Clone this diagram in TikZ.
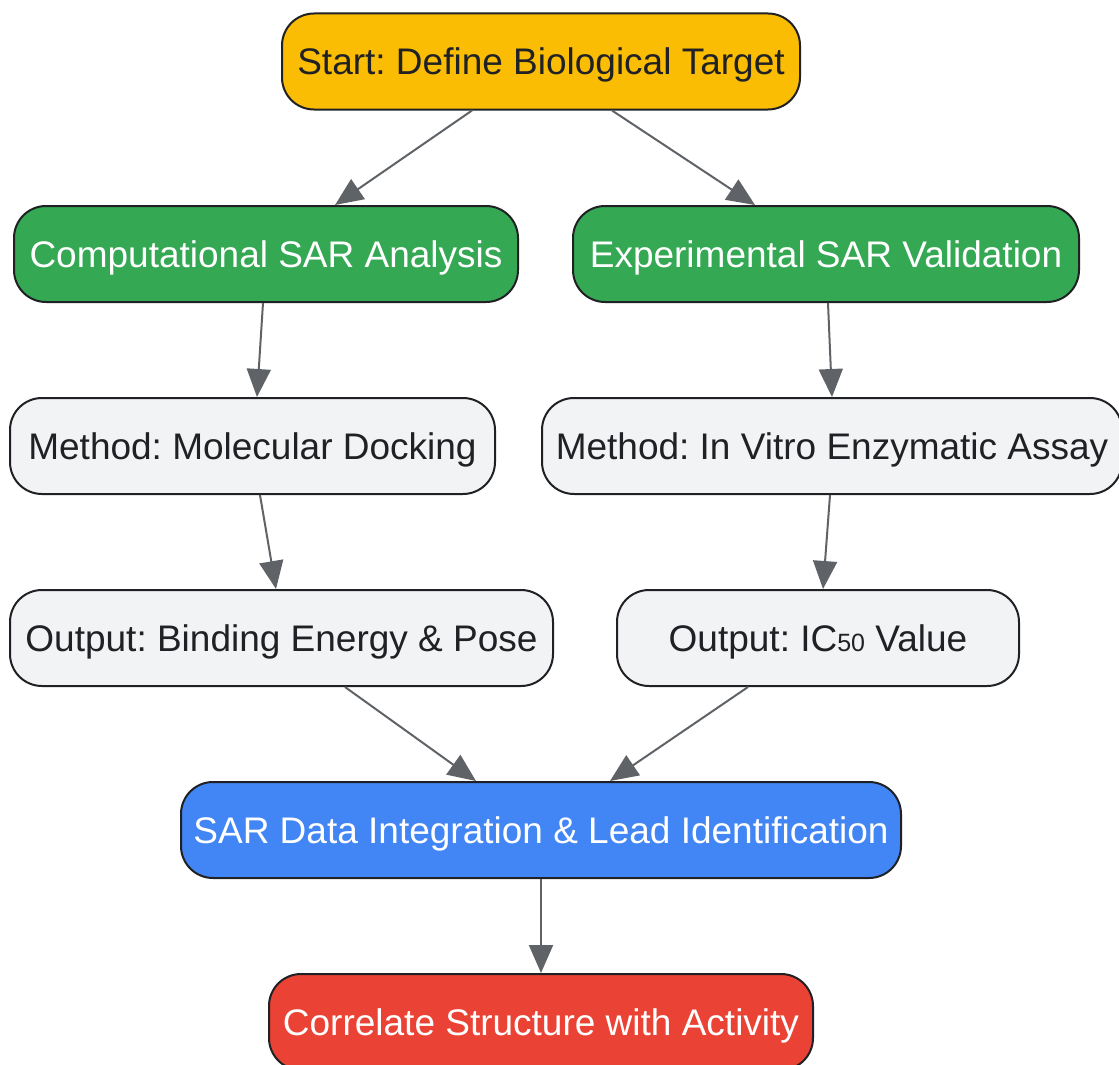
\documentclass[tikz,border=0pt]{standalone}
\usepackage{fontspec}
\setmainfont{Liberation Sans}
\usetikzlibrary{arrows.meta}
\definecolor{cYellow}{HTML}{FBBC04}
\definecolor{cGreen}{HTML}{34A853}
\definecolor{cGray}{HTML}{F1F3F4}
\definecolor{cBlue}{HTML}{4285F4}
\definecolor{cRed}{HTML}{EA4335}
\definecolor{cBorder}{HTML}{202124}
\definecolor{cArrow}{HTML}{5F6368}
\definecolor{cText}{HTML}{202124}
\frenchspacing
\tikzset{
  box/.style={draw=cBorder, line width=2pt, rounded corners=32pt, minimum height=96pt,
    inner sep=0pt, text height=26.5pt, text depth=0pt,
    font=\fontsize{37}{42}\selectfont},
  darktext/.style={box, text=cText},
  lighttext/.style={box, text=white},
  conn/.style={draw=cArrow, line width=2pt, -{Triangle[length=28pt,width=24pt]}}
}
\begin{document}
\begin{tikzpicture}[x=1pt,y=-1pt]
\useasboundingbox (0,0) rectangle (1119,1065);
\node[darktext, fill=cYellow, minimum width=518pt] (start) at (541,61.5) {Start: Define Biological Target};
\node[lighttext, fill=cGreen, minimum width=504pt] (comp) at (266,254) {Computational SAR Analysis};
\node[lighttext, fill=cGreen, minimum width=506pt] (exp) at (826,254) {Experimental SAR Validation};
\node[darktext, fill=cGray, minimum width=485pt] (dock) at (252.5,446) {Method: Molecular Docking};
\node[darktext, fill=cGray, minimum width=580pt] (assay) at (832,446) {Method: In Vitro Enzymatic Assay};
\node[darktext, fill=cGray, minimum width=543pt] (bind) at (281.5,638) {Output: Binding Energy \& Pose};
\node[darktext, fill=cGray, minimum width=402pt] (ic) at (818,638) {Output: IC{\fontsize{25}{25}\selectfont 50} Value};
\node[lighttext, fill=cBlue, minimum width=720pt] (sar) at (541,830) {SAR Data Integration \& Lead Identification};
\node[lighttext, fill=cRed, minimum width=544pt] (corr) at (541,1022) {Correlate Structure with Activity};

\draw[conn] ([xshift=-69pt]start.south) -- ([xshift=69pt]comp.north);
\draw[conn] ([xshift=71pt]start.south) -- ([xshift=-71pt]exp.north);
\draw[conn] ([xshift=-3pt]comp.south) -- ([xshift=4.5pt]dock.north);
\draw[conn] ([xshift=2pt]exp.south) -- ([xshift=0pt]assay.north);
\draw[conn] ([xshift=7.5pt]dock.south) -- ([xshift=-5.5pt]bind.north);
\draw[conn] ([xshift=-2pt]assay.south) -- ([xshift=5pt]ic.north);
\draw[conn] ([xshift=63.5pt]bind.south) -- ([xshift=-65pt]sar.north);
\draw[conn] ([xshift=-70pt]ic.south) -- ([xshift=69pt]sar.north);
\draw[conn] (sar.south) -- (corr.north);
\end{tikzpicture}
\end{document}
